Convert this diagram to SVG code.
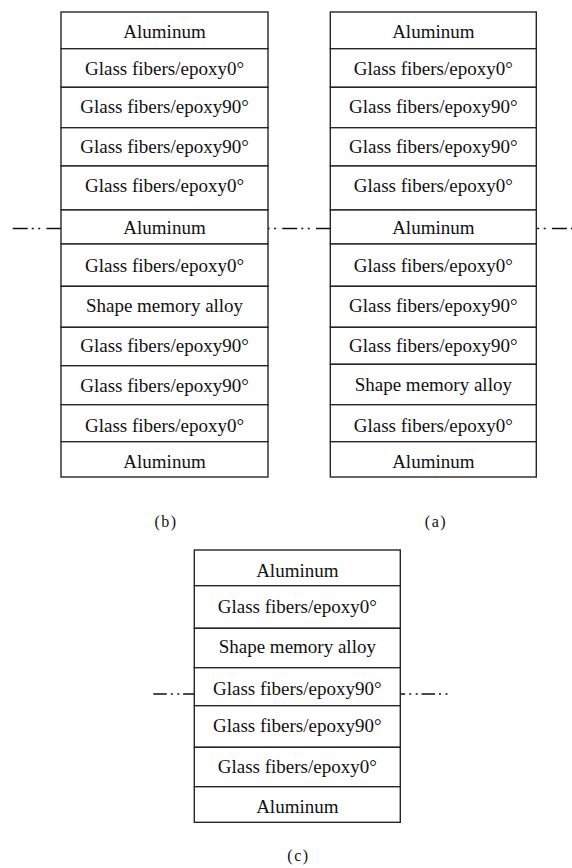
<svg xmlns="http://www.w3.org/2000/svg" width="572" height="868" viewBox="0 0 572 868">
<style>
rect.l{fill:#fff;stroke:#262626;stroke-width:1.4}
text{font-size:19px;fill:#111;text-anchor:middle}
text.cap{font-size:16px;letter-spacing:1.5px}
.axis{stroke:#111;stroke-width:1.6;fill:none}
</style>
<rect width="572" height="868" fill="#fff"/>
<g id="connectors">
<line class="axis" x1="12.7" y1="228.5" x2="572" y2="228.5" stroke-dasharray="15 4 2 4.5 2 6.2"/>
<line class="axis" x1="153.3" y1="694" x2="450" y2="694" stroke-dasharray="13.5 4 2 4.5 2 3.8"/>
</g>
<g font-family="Liberation Serif, Times New Roman, DejaVu Serif, serif">
<g id="stack-b">
<g id="b1"><rect class="l" x="61" y="12" width="207" height="36.7"/><text x="164.5" y="38">Aluminum</text></g>
<g id="b2"><rect class="l" x="61" y="48.7" width="207" height="38.6"/><text x="164.5" y="75">Glass fibers/epoxy0°</text></g>
<g id="b3"><rect class="l" x="61" y="87.3" width="207" height="40.4"/><text x="164.5" y="113.3">Glass fibers/epoxy90°</text></g>
<g id="b4"><rect class="l" x="61" y="127.7" width="207" height="38.3"/><text x="164.5" y="153.3">Glass fibers/epoxy90°</text></g>
<g id="b5"><rect class="l" x="61" y="166" width="207" height="44"/><text x="164.5" y="191.7">Glass fibers/epoxy0°</text></g>
<g id="b6"><rect class="l" x="61" y="210" width="207" height="34"/><text x="164.5" y="234.3">Aluminum</text></g>
<g id="b7"><rect class="l" x="61" y="244" width="207" height="42.3"/><text x="164.5" y="271.7">Glass fibers/epoxy0°</text></g>
<g id="b8"><rect class="l" x="61" y="286.3" width="207" height="41"/><text x="164.5" y="311.7">Shape memory alloy</text></g>
<g id="b9"><rect class="l" x="61" y="327.3" width="207" height="38.4"/><text x="164.5" y="351.7">Glass fibers/epoxy90°</text></g>
<g id="b10"><rect class="l" x="61" y="365.7" width="207" height="39"/><text x="164.5" y="391.7">Glass fibers/epoxy90°</text></g>
<g id="b11"><rect class="l" x="61" y="404.7" width="207" height="37"/><text x="164.5" y="431.7">Glass fibers/epoxy0°</text></g>
<g id="b12"><rect class="l" x="61" y="441.7" width="207" height="35.3"/><text x="164.5" y="468.3">Aluminum</text></g>
</g>
<g id="stack-a">
<g id="a1"><rect class="l" x="330.3" y="12" width="206" height="36.7"/><text x="433.3" y="38">Aluminum</text></g>
<g id="a2"><rect class="l" x="330.3" y="48.7" width="206" height="38.6"/><text x="433.3" y="75">Glass fibers/epoxy0°</text></g>
<g id="a3"><rect class="l" x="330.3" y="87.3" width="206" height="40.4"/><text x="433.3" y="113.3">Glass fibers/epoxy90°</text></g>
<g id="a4"><rect class="l" x="330.3" y="127.7" width="206" height="38.3"/><text x="433.3" y="153.3">Glass fibers/epoxy90°</text></g>
<g id="a5"><rect class="l" x="330.3" y="166" width="206" height="44"/><text x="433.3" y="191.7">Glass fibers/epoxy0°</text></g>
<g id="a6"><rect class="l" x="330.3" y="210" width="206" height="34"/><text x="433.3" y="234.3">Aluminum</text></g>
<g id="a7"><rect class="l" x="330.3" y="244" width="206" height="42.3"/><text x="433.3" y="271.7">Glass fibers/epoxy0°</text></g>
<g id="a8"><rect class="l" x="330.3" y="286.3" width="206" height="41"/><text x="433.3" y="311.7">Glass fibers/epoxy90°</text></g>
<g id="a9"><rect class="l" x="330.3" y="327.3" width="206" height="37"/><text x="433.3" y="351.7">Glass fibers/epoxy90°</text></g>
<g id="a10"><rect class="l" x="330.3" y="364.3" width="206" height="40.4"/><text x="433.3" y="390.7">Shape memory alloy</text></g>
<g id="a11"><rect class="l" x="330.3" y="404.7" width="206" height="37"/><text x="433.3" y="431.7">Glass fibers/epoxy0°</text></g>
<g id="a12"><rect class="l" x="330.3" y="441.7" width="206" height="35.3"/><text x="433.3" y="468.3">Aluminum</text></g>
</g>
<g id="stack-c">
<g id="c1"><rect class="l" x="194.3" y="550" width="206" height="35.7"/><text x="297.3" y="576.7">Aluminum</text></g>
<g id="c2"><rect class="l" x="194.3" y="585.7" width="206" height="42.6"/><text x="297.3" y="612.7">Glass fibers/epoxy0°</text></g>
<g id="c3"><rect class="l" x="194.3" y="628.3" width="206" height="39.4"/><text x="297.3" y="652.7">Shape memory alloy</text></g>
<g id="c4"><rect class="l" x="194.3" y="667.7" width="206" height="38"/><text x="297.3" y="695">Glass fibers/epoxy90°</text></g>
<g id="c5"><rect class="l" x="194.3" y="705.7" width="206" height="41.6"/><text x="297.3" y="731.7">Glass fibers/epoxy90°</text></g>
<g id="c6"><rect class="l" x="194.3" y="747.3" width="206" height="39.4"/><text x="297.3" y="773.3">Glass fibers/epoxy0°</text></g>
<g id="c7"><rect class="l" x="194.3" y="786.7" width="206" height="35.6"/><text x="297.3" y="812.7">Aluminum</text></g>
</g>
<g id="labels">
<text class="cap" x="166" y="527">(b)</text>
<text class="cap" x="436" y="527">(a)</text>
<text class="cap" x="298.5" y="861">(c)</text>
</g>
</g>
</svg>
